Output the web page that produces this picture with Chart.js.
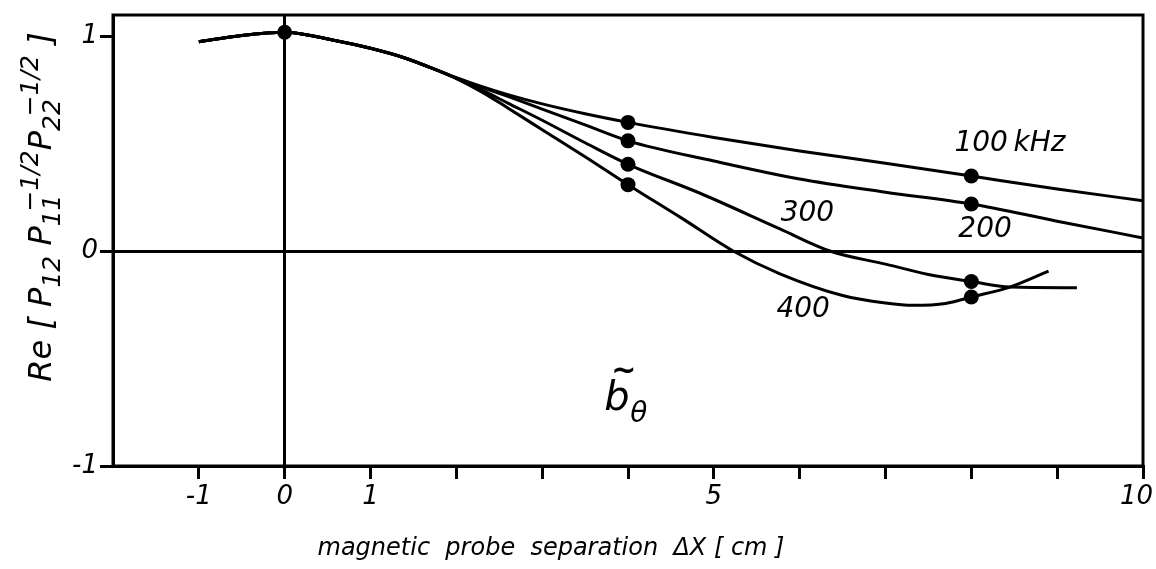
<!DOCTYPE html>
<html>
<head>
<meta charset="utf-8">
<title>Re P12 vs magnetic probe separation</title>
<script src="https://cdn.jsdelivr.net/npm/chart.js@4.4.1/dist/chart.umd.min.js"></script>
<style>
  html, body { margin: 0; padding: 0; background: #fff; }
  #wrap { position: relative; width: 1156px; height: 569px; }
</style>
</head>
<body>
<div id="wrap"><canvas id="chart" width="1156" height="569"></canvas></div>
<script>
// shared part of all four curves (they coincide up to ~1.7 cm)
const commonX = [-1, -0.5, 0, 0.6, 1.0, 1.4, 1.7];
const commonY = [0.975, 1.005, 1.02, 0.98, 0.945, 0.90, 0.855];

// per-frequency curves beyond the split
const x100 = [2.0, 2.3, 2.6, 3.0, 3.5, 4, 5, 6, 7, 8, 9, 10];
const y100 = [0.808, 0.766, 0.729, 0.686, 0.64, 0.60, 0.53, 0.467, 0.41, 0.35, 0.29, 0.235];
const x200 = [2.0, 2.3, 2.6, 3.0, 3.5, 4, 5, 6, 7, 8, 9, 10];
const y200 = [0.807, 0.763, 0.721, 0.662, 0.588, 0.514, 0.42, 0.336, 0.275, 0.22, 0.14, 0.062];
const x300 = [2.0, 2.3, 2.6, 3.0, 3.5, 4, 4.84, 5.77, 6.36, 7, 7.5, 8, 8.45, 9.23];
const y300 = [0.806, 0.75, 0.69, 0.61, 0.505, 0.405, 0.27, 0.104, 0, -0.06, -0.108, -0.141, -0.167, -0.17];
const x400 = [2.0, 2.3, 2.6, 3.0, 3.5, 4, 4.63, 5.23, 5.77, 6.5, 7, 7.32, 7.7, 8, 8.45, 8.9];
const y400 = [0.804, 0.741, 0.667, 0.566, 0.44, 0.31, 0.153, 0, -0.105, -0.206, -0.241, -0.252, -0.243, -0.213, -0.167, -0.093];

// measured points (filled dots)
const originX = [0];
const originY = [1.02];
const probeX = [4, 8];
const dot100 = [0.60, 0.35];
const dot200 = [0.514, 0.22];
const dot300 = [0.405, -0.141];
const dot400 = [0.31, -0.213];

const seriesNames = ["100\u2009kHz", "200", "300", "400"];
const xTicks = [-2, -1, 0, 1, 2, 3, 4, 5, 6, 7, 8, 9, 10];
const xTickLabels = [-1, 0, 1, 5, 10];
const yTicks = [-1, 0, 1];

const FONT = "'DejaVu Sans', 'Liberation Sans', sans-serif";

function pts(xs, ys) {
  return xs.map((x, i) => ({ x: x, y: ys[i] }));
}

function curve(label, xs, ys) {
  return {
    type: "line",
    label: label,
    data: pts(commonX.concat(xs), commonY.concat(ys)),
    borderColor: "#000",
    borderWidth: 3,
    pointRadius: 0,
    cubicInterpolationMode: "monotone",
    fill: false
  };
}

function dots(label, xs, ys) {
  return {
    type: "scatter",
    label: label,
    data: pts(xs, ys),
    backgroundColor: "#000",
    borderWidth: 0,
    pointRadius: 7.5,
    showLine: false
  };
}

// series labels sit next to the curves, given in data coordinates
const curveLabels = [
  { text: seriesNames[0], x: 8.45, y: 0.50 },
  { text: seriesNames[1], x: 8.16, y: 0.10 },
  { text: seriesNames[2], x: 6.09, y: 0.175 },
  { text: seriesNames[3], x: 6.04, y: -0.27 }
];

const textPlugin = {
  id: "textPlugin",
  afterDraw(chart) {
    const ctx = chart.ctx;
    const a = chart.chartArea;
    const sx = chart.scales.x, sy = chart.scales.y;
    ctx.save();

    // frame on all four sides
    ctx.strokeStyle = "#000";
    ctx.lineWidth = 3;
    ctx.strokeRect(a.left, a.top, a.right - a.left, a.bottom - a.top);

    ctx.fillStyle = "#000";
    ctx.textAlign = "center";
    ctx.textBaseline = "middle";
    ctx.font = "italic 28px " + FONT;
    curveLabels.forEach((l) => {
      ctx.fillText(l.text, sx.getPixelForValue(l.x), sy.getPixelForValue(l.y));
    });

    // b-tilde theta
    const bx = sx.getPixelForValue(3.84), by = sy.getPixelForValue(-0.74);
    ctx.textBaseline = "alphabetic";
    ctx.textAlign = "left";
    ctx.font = "italic 40px " + FONT;
    ctx.fillText("b", bx - 10, by);
    ctx.font = "bold 30px " + FONT;
    ctx.fillText("~", bx - 3, by - 30);
    ctx.font = "italic 28px " + FONT;
    ctx.fillText("\u03b8", bx + 16, by + 12);

    // x axis title
    ctx.textAlign = "center";
    ctx.font = "italic 24px " + FONT;
    ctx.fillText("magnetic  probe  separation  \u0394X [ cm ]", 551, 555);

    // y axis title, rotated, with sub/superscripts
    const big = "italic 32px " + FONT, small = "italic 25px " + FONT;
    const parts = [
      { t: "Re [ ", f: big, dy: 0 },
      { t: "P", f: big, dy: 0 },
      { t: "12", f: small, dy: 9 },
      { t: " P", f: big, dy: 0 },
      { t: "11", f: small, dy: 9 },
      { t: "\u22121/2", f: small, dy: -13, back: 17 },
      { t: "P", f: big, dy: 0 },
      { t: "22", f: small, dy: 9 },
      { t: "\u22121/2", f: small, dy: -13, back: 17 },
      { t: " ]", f: big, dy: 0 }
    ];
    ctx.translate(51, 207);
    ctx.rotate(-Math.PI / 2);
    let total = 0;
    parts.forEach((p) => { ctx.font = p.f; total += ctx.measureText(p.t).width - (p.back || 0); });
    let cx = -total / 2;
    ctx.textAlign = "left";
    parts.forEach((p) => {
      ctx.font = p.f;
      cx -= (p.back || 0);
      ctx.fillText(p.t, cx, p.dy);
      cx += ctx.measureText(p.t).width;
    });
    ctx.restore();
  }
};

new Chart(document.getElementById("chart"), {
  type: "line",
  data: {
    datasets: [
      curve(seriesNames[0], x100, y100),
      curve(seriesNames[1], x200, y200),
      curve(seriesNames[2], x300, y300),
      curve(seriesNames[3], x400, y400),
      dots("origin", originX, originY),
      dots(seriesNames[0] + " points", probeX, dot100),
      dots(seriesNames[1] + " points", probeX, dot200),
      dots(seriesNames[2] + " points", probeX, dot300),
      dots(seriesNames[3] + " points", probeX, dot400)
    ]
  },
  options: {
    responsive: false,
    animation: false,
    layout: { padding: { top: 15, right: 13, left: 0, bottom: 0 } },
    plugins: { legend: { display: false }, tooltip: { enabled: false } },
    scales: {
      x: {
        type: "linear",
        min: -2,
        max: 10,
        afterBuildTicks: (s) => { s.ticks = xTicks.map((v) => ({ value: v })); },
        afterFit: (s) => { s.height = 103; s.paddingLeft = 0; s.paddingRight = 0; },
        ticks: {
          autoSkip: false,
          maxRotation: 0,
          padding: 3,
          color: "#000",
          font: { family: FONT, size: 26, style: "italic" },
          // the last label is nudged left with a trailing space so it stays on the page
          callback: (v) => (xTickLabels.includes(v) ? (v === 10 ? "10\u2002" : String(v)) : "")
        },
        grid: {
          drawOnChartArea: true,
          color: (c) => (c.tick && c.tick.value === 0 ? "#000" : "rgba(0,0,0,0)"),
          lineWidth: 3,
          tickColor: (c) => (c.tick && c.tick.value === -2 ? "rgba(0,0,0,0)" : "#000"),
          tickLength: 13,
          tickWidth: 3
        },
        border: { display: true, color: "#000", width: 3 }
      },
      y: {
        type: "linear",
        min: -1,
        max: 1.1,
        afterBuildTicks: (s) => { s.ticks = yTicks.map((v) => ({ value: v })); },
        afterFit: (s) => { s.width = 113; s.paddingTop = 0; s.paddingBottom = 0; },
        ticks: {
          padding: 2,
          color: "#000",
          font: { family: FONT, size: 26, style: "italic" },
          callback: (v) => String(v)
        },
        grid: {
          drawOnChartArea: true,
          color: (c) => (c.tick && c.tick.value === 0 ? "#000" : "rgba(0,0,0,0)"),
          lineWidth: 3,
          tickColor: "#000",
          tickLength: 13,
          tickWidth: 3
        },
        border: { display: true, color: "#000", width: 3 }
      }
    }
  },
  plugins: [textPlugin]
});
</script>
</body>
</html>
